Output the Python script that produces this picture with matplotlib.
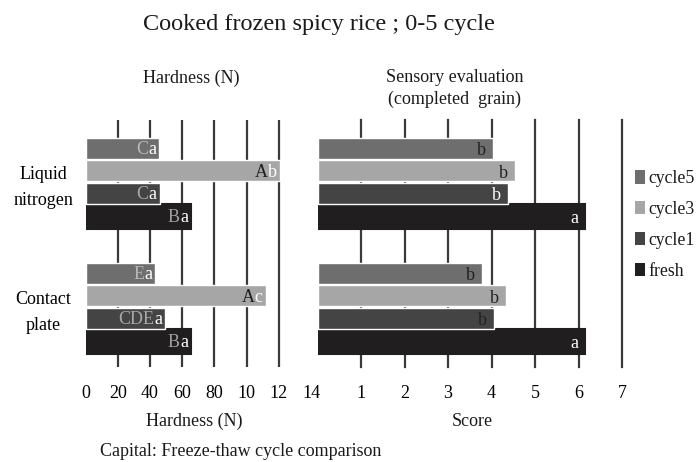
import matplotlib
matplotlib.use("Agg")
import matplotlib.pyplot as plt
from matplotlib.patches import Patch
import numpy as np

plt.rcParams["font.family"] = ["Liberation Serif", "DejaVu Serif"]
plt.rcParams["text.color"] = "#1a1a1a"

# data
categories = ["Liquid\nnitrogen", "Contact\nplate"]
series = ["cycle5", "cycle3", "cycle1", "fresh"]

hardness_cycle5 = [45.6, 43.2]
hardness_cycle3 = [120.5, 111.8]
hardness_cycle1 = [46.0, 49.3]
hardness_fresh = [65.5, 65.5]

score_cycle5 = [4.03, 3.78]
score_cycle3 = [4.55, 4.33]
score_cycle1 = [4.37, 4.05]
score_fresh = [6.15, 6.15]

# significance letters (capital: freeze-thaw cycle comparison)
hardness_caps_cycle5 = ["C", "E"]
hardness_caps_cycle3 = ["A", "A"]
hardness_caps_cycle1 = ["C", "CDE"]
hardness_caps_fresh = ["B", "B"]
hardness_small_cycle5 = ["a", "a"]
hardness_small_cycle3 = ["b", "c"]
hardness_small_cycle1 = ["a", "a"]
hardness_small_fresh = ["a", "a"]
score_small_cycle5 = ["b", "b"]
score_small_cycle3 = ["b", "b"]
score_small_cycle1 = ["b", "b"]
score_small_fresh = ["a", "a"]

hardness_ticks = [0, 20, 40, 60, 80, 100, 120, 140]
hardness_ticklabels = ["0", "20", "40", "60", "80", "10", "12", "14"]
score_ticks = [1, 2, 3, 4, 5, 6, 7]

hardness = {"cycle5": hardness_cycle5, "cycle3": hardness_cycle3,
            "cycle1": hardness_cycle1, "fresh": hardness_fresh}
score = {"cycle5": score_cycle5, "cycle3": score_cycle3,
         "cycle1": score_cycle1, "fresh": score_fresh}
hardness_caps = {"cycle5": hardness_caps_cycle5, "cycle3": hardness_caps_cycle3,
                 "cycle1": hardness_caps_cycle1, "fresh": hardness_caps_fresh}
hardness_small = {"cycle5": hardness_small_cycle5, "cycle3": hardness_small_cycle3,
                  "cycle1": hardness_small_cycle1, "fresh": hardness_small_fresh}
score_small = {"cycle5": score_small_cycle5, "cycle3": score_small_cycle3,
               "cycle1": score_small_cycle1, "fresh": score_small_fresh}

# styling
colors = {"cycle5": "#6e6e6e", "cycle3": "#a6a6a6", "cycle1": "#444444", "fresh": "#201e1e"}
cap_colors = {"cycle5": "#b8b8b8", "cycle3": "#1e1e1e", "cycle1": "#a8a8a8", "fresh": "#a0a0a0"}
score_text_colors = {"cycle5": ["#222222", "#222222"], "cycle3": ["#222222", "#222222"],
                     "cycle1": ["white", "#222222"], "fresh": ["white", "white"]}
offsets = {"cycle5": -0.27, "cycle3": -0.09, "cycle1": 0.09, "fresh": 0.275}
heights = {"cycle5": 0.17, "cycle3": 0.17, "cycle1": 0.17, "fresh": 0.2}
grid_color = "#3a3a3a"
fs = 13

W, H = 697, 462
fig = plt.figure(figsize=(W / 100, H / 100), dpi=100)


def px_box(x0, y0, x1, y1):
    return [x0 / W, 1 - y1 / H, (x1 - x0) / W, (y1 - y0) / H]


def fig_xy(x, y):
    return x / W, 1 - y / H


ax1 = fig.add_axes(px_box(85.5, 120, 311, 367))
ax2 = fig.add_axes(px_box(317.5, 120, 622, 367))

ypos = np.arange(len(categories))

for ax, data in ((ax1, hardness), (ax2, score)):
    for s in series:
        fresh = s == "fresh"
        ax.barh(ypos + offsets[s], data[s], height=heights[s], color=colors[s],
                edgecolor=colors[s] if fresh else "white",
                linewidth=1.5 if fresh else 1.0, zorder=2 if fresh else 3)
    ax.set_ylim(1.48, -0.496)
    for sp in ax.spines.values():
        sp.set_visible(False)
    ax.tick_params(axis="both", length=0, labelsize=fs)
    ax.tick_params(axis="x", pad=13)

for v in hardness_ticks[1:-1]:
    ax1.axvline(v, color=grid_color, lw=1.6, zorder=1)
for v in score_ticks:
    ax2.axvline(v, color=grid_color, lw=1.6, zorder=1, clip_on=False)

ax1.set_xlim(0, 140)
ax1.set_xticks(hardness_ticks)
ax1.set_xticklabels(hardness_ticklabels)
ax2.set_xlim(0, 7)
ax2.set_xticks(score_ticks)
ax2.set_yticks([])

ax1.set_yticks(ypos - 0.01)
ax1.set_yticklabels(categories, fontsize=fs, linespacing=1.7)
ax1.tick_params(axis="y", pad=30.5)
for lab in ax1.get_yticklabels():
    lab.set_horizontalalignment("center")
    lab.set_multialignment("center")

# letters on the bars
for s in series:
    for j in range(len(categories)):
        y = ypos[j] + offsets[s]
        t = ax1.annotate(hardness_small[s][j], xy=(hardness[s][j], y),
                         xytext=(-3, -6), textcoords="offset pixels",
                         ha="right", va="baseline", color="white",
                         fontsize=fs, zorder=5)
        ax1.annotate(hardness_caps[s][j], xy=(0, 0), xycoords=t,
                     ha="right", va="bottom", color=cap_colors[s],
                     fontsize=fs, zorder=5)
        ax2.annotate(score_small[s][j], xy=(score[s][j], y),
                     xytext=(-7, -7), textcoords="offset pixels",
                     ha="right", va="baseline", color=score_text_colors[s][j],
                     fontsize=fs, zorder=5)

# titles and labels
fig.text(*fig_xy(319, 30), "Cooked frozen spicy rice ; 0-5 cycle",
         ha="center", va="baseline", fontsize=17.5)
fig.text(*fig_xy(191.5, 82.5), "Hardness (N)", ha="center", va="baseline", fontsize=fs)
fig.text(*fig_xy(455, 82), "Sensory evaluation", ha="center", va="baseline", fontsize=fs)
fig.text(*fig_xy(455, 104), "(completed  grain)", ha="center", va="baseline", fontsize=fs)
fig.text(*fig_xy(194, 426), "Hardness (N)", ha="center", va="baseline", fontsize=fs)
fig.text(*fig_xy(472, 426), "Score", ha="center", va="baseline", fontsize=fs)
fig.text(*fig_xy(100, 456), "Capital: Freeze-thaw cycle comparison",
         ha="left", va="baseline", fontsize=fs)

handles = [Patch(facecolor=colors[s], edgecolor="none") for s in series]
ax2.legend(handles, series, loc="center left",
           bbox_to_anchor=fig_xy(635, 225), bbox_transform=fig.transFigure,
           frameon=False, borderpad=0, borderaxespad=0, handlelength=0.55,
           handleheight=0.75, handletextpad=0.2, labelspacing=0.78,
           fontsize=12.8)

fig.savefig("out.png", dpi=100)
